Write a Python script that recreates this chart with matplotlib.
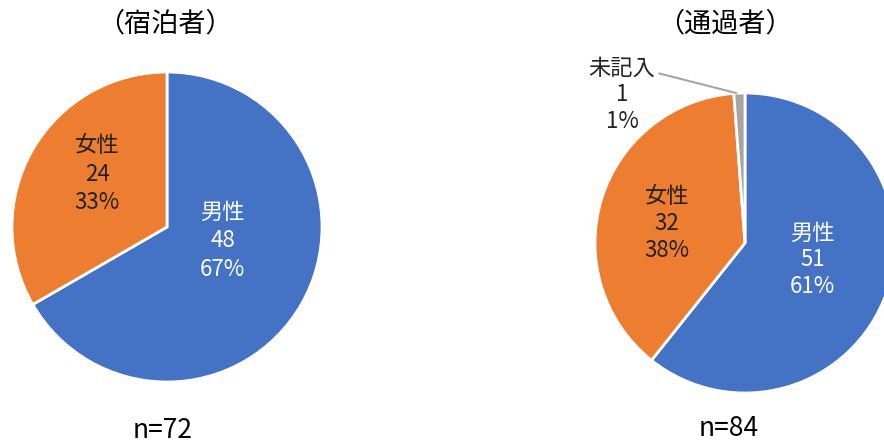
#!/usr/bin/env python3
"""Gender breakdown of respondents: overnight guests vs. pass-through visitors."""

import matplotlib
matplotlib.use("Agg")
import matplotlib.pyplot as plt

plt.rcParams["font.family"] = ["Noto Sans CJK JP", "DejaVu Sans"]

# data
stay_title = "（宿泊者）"
stay_labels = ["男性", "女性"]
stay_counts = [48, 24]

pass_title = "（通過者）"
pass_labels = ["男性", "女性", "未記入"]
pass_counts = [51, 32, 1]

COLORS = ["#4472C4", "#ED7D31", "#A5A5A5"]
TEXT_COLORS = ["white", "#222222", "#222222"]

W, H = 884, 445


def px_axes(fig, cx, cy, r):
    """Square axes centred on pixel (cx, cy) with pie radius r pixels."""
    return fig.add_axes([(cx - r) / W, (H - cy - r) / H, 2 * r / W, 2 * r / H])


def label_text(name, count, total):
    return f"{name}\n{count}\n{round(100 * count / total)}%"


def draw_pie(ax, labels, counts, label_pos, spacing):
    total = sum(counts)
    ax.pie(counts, colors=COLORS[:len(counts)], startangle=90, counterclock=False,
           radius=1.0, wedgeprops=dict(edgecolor="white", linewidth=2))
    ax.set_xlim(-1, 1)
    ax.set_ylim(-1, 1)
    ax.set_aspect("equal")
    ax.axis("off")
    for i, (name, c) in enumerate(zip(labels, counts)):
        x, y = label_pos[i]
        ax.text(x, y, label_text(name, c, total), ha="center", va="center",
                fontsize=16, color=TEXT_COLORS[i], linespacing=spacing, clip_on=False)


fig = plt.figure(figsize=(W / 100, H / 100), dpi=100)

# left pie
ax_l = px_axes(fig, 167, 227, 155)
draw_pie(ax_l, stay_labels, stay_counts, [(0.36, -0.09), (-0.45, 0.34)], 1.3)

# right pie (runs off the right edge)
ax_r = px_axes(fig, 745, 243, 150)
draw_pie(ax_r, pass_labels, pass_counts, [(0.45, -0.11), (-0.52, 0.13), (-0.82, 0.99)], 1.2)
ax_r.plot([-0.57, -0.06], [1.13, 1.0], color="#A5A5A5", lw=1.5, clip_on=False)

fig.text(165 / W, 1 - 24 / H, stay_title, ha="center", va="center", fontsize=19.5)
fig.text(725 / W, 1 - 24 / H, pass_title, ha="center", va="center", fontsize=19.5)
fig.text(163 / W, 1 - 431 / H, f"n={sum(stay_counts)}", ha="center", va="center", fontsize=19)
fig.text(729 / W, 1 - 429 / H, f"n={sum(pass_counts)}", ha="center", va="center", fontsize=19)

fig.savefig("out.png", dpi=100)
